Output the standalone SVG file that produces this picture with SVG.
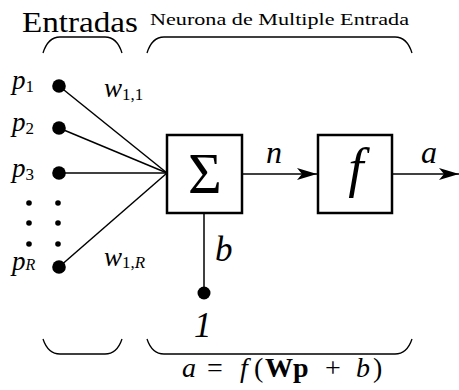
<svg xmlns="http://www.w3.org/2000/svg" width="459" height="390" viewBox="0 0 459 390" font-family="Liberation Serif, serif">
<defs>
<style>
.ln{stroke:#000;stroke-width:1.5;fill:none}
.br{stroke:#000;stroke-width:1.3;fill:none}
.bx{stroke:#000;stroke-width:2.5;fill:#fff}
.i{font-style:italic}
</style>
<marker id="ah" markerWidth="20" markerHeight="12" refX="20" refY="6" orient="auto" markerUnits="userSpaceOnUse">
<path d="M0,0 L20,6 L0,12 L5,6 Z" fill="#000"/>
</marker>
</defs>
<rect width="459" height="390" fill="#fff"/>
<g id="labels-top">
<text x="22" y="32" font-size="29" textLength="116" lengthAdjust="spacingAndGlyphs">Entradas</text>
<text x="150" y="25" font-size="17.5" textLength="259" lengthAdjust="spacingAndGlyphs">Neurona de Multiple Entrada</text>
</g>
<g id="braces">
<path class="br" d="M43,53 Q48,37 60,37 L105,37 Q117,37 122,53"/>
<path class="br" d="M147,53 Q152,37 164,37 L395,37 Q407,37 412,53"/>
<path class="br" d="M43,339 Q48,354 60,354 L105,354 Q117,354 122,339"/>
<path class="br" d="M147,339 Q152,354 164,354 L395,354 Q407,354 412,339"/>
</g>
<g id="connectors">
<line class="ln" x1="59" y1="86" x2="167" y2="173"/>
<line class="ln" x1="59" y1="128" x2="167" y2="173"/>
<line class="ln" x1="59" y1="173" x2="167" y2="173"/>
<line class="ln" x1="59" y1="267" x2="167" y2="173"/>
<line class="ln" x1="242" y1="174" x2="317" y2="174" marker-end="url(#ah)"/>
<line class="ln" x1="392" y1="174" x2="459" y2="174" marker-end="url(#ah)"/>
<line class="ln" x1="204" y1="213" x2="204" y2="293"/>
</g>
<g id="inputs">
<circle cx="59" cy="86" r="6.8"/>
<circle cx="59" cy="128" r="6.8"/>
<circle cx="59" cy="173" r="6.8"/>
<circle cx="59" cy="267" r="6.8"/>
<circle cx="29" cy="203" r="2.8"/>
<circle cx="58" cy="203" r="2.8"/>
<circle cx="29" cy="223" r="2.8"/>
<circle cx="58" cy="223" r="2.8"/>
<circle cx="29" cy="244" r="2.8"/>
<circle cx="58" cy="244" r="2.8"/>
<text class="i" x="12" y="89" font-size="27">p<tspan font-size="17" font-style="normal" dy="3">1</tspan></text>
<text class="i" x="12" y="131" font-size="27">p<tspan font-size="17" font-style="normal" dy="3">2</tspan></text>
<text class="i" x="12" y="177" font-size="27">p<tspan font-size="17" font-style="normal" dy="3">3</tspan></text>
<text class="i" x="12" y="270" font-size="27">p<tspan font-size="16">R</tspan></text>
<text class="i" x="104" y="97" font-size="27">w<tspan font-size="17" font-style="normal" dy="3">1,1</tspan></text>
<text class="i" x="104" y="266" font-size="27">w<tspan font-size="17" font-style="normal" dy="2">1,</tspan><tspan font-size="17">R</tspan></text>
</g>
<g id="sum">
<rect class="bx" x="167" y="135" width="75" height="78"/>
<text x="205" y="193" font-size="58" text-anchor="middle">Σ</text>
</g>
<g id="transfer">
<rect class="bx" x="318" y="135" width="74" height="78"/>
<text class="i" x="356" y="186" font-size="55" text-anchor="middle">f</text>
</g>
<g id="bias">
<circle cx="204" cy="293" r="6.5"/>
<text class="i" x="215" y="261" font-size="35">b</text>
<text class="i" x="194" y="337" font-size="35">1</text>
</g>
<g id="signals">
<text class="i" x="266" y="163" font-size="32">n</text>
<text class="i" x="421" y="163" font-size="32">a</text>
</g>
<g id="formula">
<text y="377" font-size="28"><tspan class="i" x="182">a</tspan><tspan x="207">=</tspan><tspan class="i" x="240">f</tspan><tspan x="254">(</tspan><tspan x="265" font-weight="bold">Wp</tspan><tspan x="325">+</tspan><tspan class="i" x="356">b</tspan><tspan x="373">)</tspan></text>
</g>
</svg>
